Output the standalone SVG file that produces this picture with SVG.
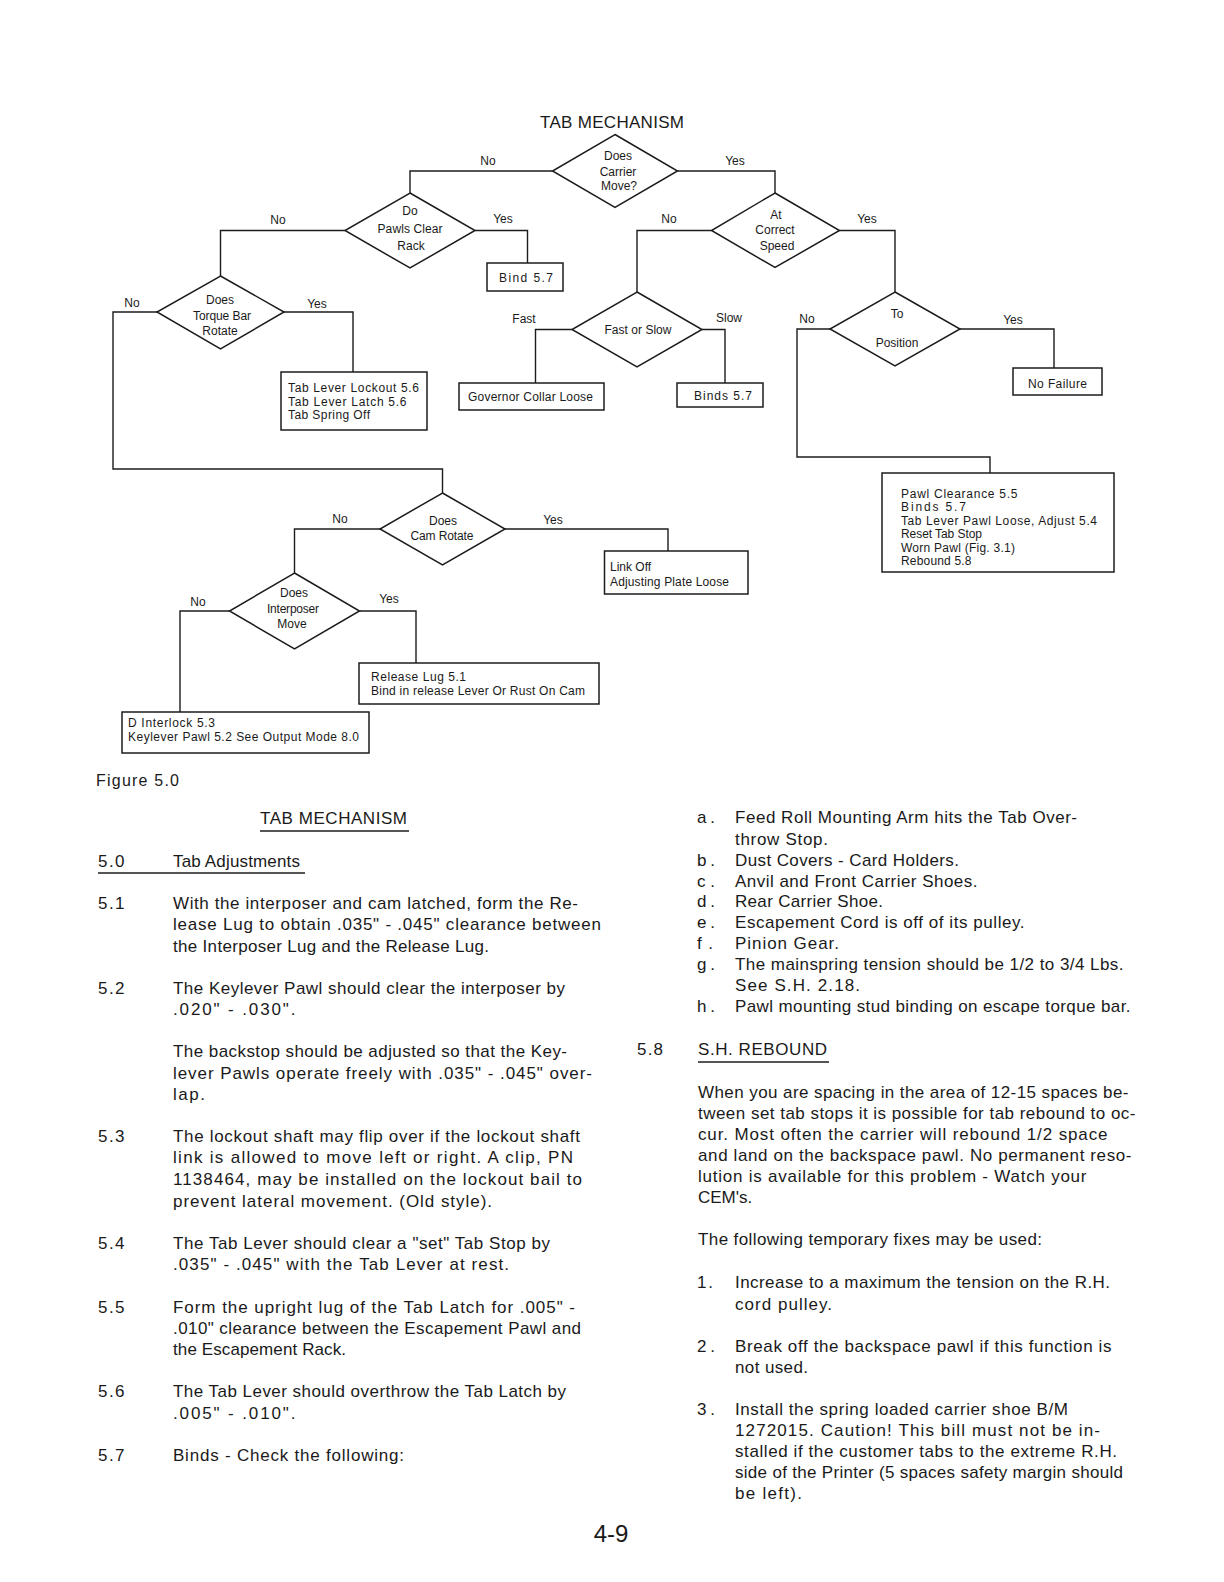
<svg xmlns="http://www.w3.org/2000/svg" width="1224" height="1582" viewBox="0 0 1224 1582">
<style>
.ln{fill:none;stroke:#1c1c1c;stroke-width:1.4}
.nd{fill:#fff;stroke:#1c1c1c;stroke-width:1.5}
text{font-family:"Liberation Sans",Arial,sans-serif;fill:#1a1a1a}
.s{font-size:12px}
.m{text-anchor:middle}
.b{font-size:17px}
.ul{stroke:#1c1c1c;stroke-width:1.5}
</style>
<rect width="1224" height="1582" fill="#fff"/>
<text x="540" y="127.5" class="b" textLength="144" lengthAdjust="spacing">TAB MECHANISM</text>

<g id="connectors">
<polyline class="ln" points="552.5,171 410,171 410,193"/>
<polyline class="ln" points="677.5,171 775,171 775,193"/>
<polyline class="ln" points="345,230.5 220.5,230.5 220.5,276"/>
<polyline class="ln" points="475,230.5 527.5,230.5 527.5,263"/>
<polyline class="ln" points="157,312 113,312 113,469 442.5,469 442.5,493"/>
<polyline class="ln" points="284,312 353,312 353,372"/>
<polyline class="ln" points="711.5,230.5 637,230.5 637,292"/>
<polyline class="ln" points="839.5,230.5 895,230.5 895,292"/>
<polyline class="ln" points="572,329.5 535.5,329.5 535.5,383"/>
<polyline class="ln" points="702,329.5 725,329.5 725,383"/>
<polyline class="ln" points="830,329 797,329 797,457 990,457 990,473"/>
<polyline class="ln" points="960,329 1054,329 1054,368"/>
<polyline class="ln" points="380,529 294.5,529 294.5,573"/>
<polyline class="ln" points="505,529 668,529 668,551"/>
<polyline class="ln" points="229.5,611 180,611 180,712"/>
<polyline class="ln" points="359.5,611 416,611 416,663"/>
<g class="s m">
<text x="488" y="164.5">No</text>
<text x="735" y="164.5">Yes</text>
<text x="278" y="223.5">No</text>
<text x="503" y="222.5">Yes</text>
<text x="669" y="222.5">No</text>
<text x="867" y="222.5">Yes</text>
<text x="132" y="306.5">No</text>
<text x="317" y="307.5">Yes</text>
<text x="524" y="322.5">Fast</text>
<text x="729" y="321.5">Slow</text>
<text x="807" y="322.5">No</text>
<text x="1013" y="323.5">Yes</text>
<text x="340" y="522.5">No</text>
<text x="553" y="523.5">Yes</text>
<text x="198" y="605.5">No</text>
<text x="389" y="602.5">Yes</text>
</g>
</g>

<g id="d-carrier">
<polygon class="nd" points="615,134.5 677.5,171 615,207.5 552.5,171"/>
<text class="s m" x="618" y="159.5">Does</text>
<text class="s m" x="618" y="175.5">Carrier</text>
<text class="s m" x="619" y="190">Move?</text>
</g>
<g id="d-pawls">
<polygon class="nd" points="410,193 475,230.5 410,268 345,230.5"/>
<text class="s m" x="410" y="214.5">Do</text>
<text class="s m" x="410" y="232.5" textLength="65" lengthAdjust="spacing">Pawls Clear</text>
<text class="s m" x="411" y="249.5">Rack</text>
</g>
<g id="d-speed">
<polygon class="nd" points="775,193 839.5,230.5 775,267.5 711.5,230.5"/>
<text class="s m" x="776" y="218.5">At</text>
<text class="s m" x="775" y="233.5">Correct</text>
<text class="s m" x="777" y="249.5">Speed</text>
</g>
<g id="d-torque">
<polygon class="nd" points="220.5,276 284,312 220.5,349 157,312"/>
<text class="s m" x="220" y="303.5">Does</text>
<text class="s m" x="222" y="319.5" textLength="58" lengthAdjust="spacing">Torque Bar</text>
<text class="s m" x="220" y="334.5">Rotate</text>
</g>
<g id="d-fastslow">
<polygon class="nd" points="637,292 702,329.5 637,367 572,329.5"/>
<text class="s m" x="638" y="333.5" textLength="67" lengthAdjust="spacing">Fast or Slow</text>
</g>
<g id="d-position">
<polygon class="nd" points="895,292 960,329 895,366 830,329"/>
<text class="s m" x="897" y="317.5">To</text>
<text class="s m" x="897" y="346.5">Position</text>
</g>
<g id="d-cam">
<polygon class="nd" points="442.5,493 505,529 442.5,565 380,529"/>
<text class="s m" x="443" y="524.5">Does</text>
<text class="s m" x="442" y="539.5" textLength="63" lengthAdjust="spacing">Cam Rotate</text>
</g>
<g id="d-interposer">
<polygon class="nd" points="294.5,573 359.5,611 294.5,649 229.5,611"/>
<text class="s m" x="294" y="596.5">Does</text>
<text class="s m" x="293" y="612.5" textLength="52" lengthAdjust="spacing">Interposer</text>
<text class="s m" x="292" y="627.5">Move</text>
</g>

<g id="b-bind">
<rect class="nd" x="487" y="263" width="76" height="28"/>
<text class="s" x="499" y="282" textLength="54" lengthAdjust="spacing">Bind 5.7</text>
</g>
<g id="b-tablever">
<rect class="nd" x="281" y="372" width="146" height="58"/>
<text class="s" x="288" y="392" textLength="131" lengthAdjust="spacing">Tab Lever Lockout 5.6</text>
<text class="s" x="288" y="405.5" textLength="118.5" lengthAdjust="spacing">Tab Lever Latch 5.6</text>
<text class="s" x="288" y="419" textLength="82" lengthAdjust="spacing">Tab Spring Off</text>
</g>
<g id="b-governor">
<rect class="nd" x="459" y="383" width="145" height="27"/>
<text class="s" x="468" y="401" textLength="125" lengthAdjust="spacing">Governor Collar Loose</text>
</g>
<g id="b-binds">
<rect class="nd" x="677" y="383" width="86" height="24"/>
<text class="s" x="694" y="399.5" textLength="58" lengthAdjust="spacing">Binds 5.7</text>
</g>
<g id="b-nofailure">
<rect class="nd" x="1013" y="368" width="89" height="27"/>
<text class="s" x="1028" y="388" textLength="59" lengthAdjust="spacing">No Failure</text>
</g>
<g id="b-pawl">
<rect class="nd" x="882" y="473" width="232" height="99"/>
<text class="s" x="901" y="497.5" textLength="116.5" lengthAdjust="spacing">Pawl Clearance 5.5</text>
<text class="s" x="901" y="511" textLength="65" lengthAdjust="spacing">Binds 5.7</text>
<text class="s" x="901" y="524.5" textLength="196" lengthAdjust="spacing">Tab Lever Pawl Loose, Adjust 5.4</text>
<text class="s" x="901" y="538" textLength="81" lengthAdjust="spacing">Reset Tab Stop</text>
<text class="s" x="901" y="551.5" textLength="114" lengthAdjust="spacing">Worn Pawl (Fig. 3.1)</text>
<text class="s" x="901" y="565" textLength="70.5" lengthAdjust="spacing">Rebound 5.8</text>
</g>
<g id="b-link">
<rect class="nd" x="604.5" y="551" width="143.5" height="43"/>
<text class="s" x="610" y="571">Link Off</text>
<text class="s" x="610" y="586" textLength="119" lengthAdjust="spacing">Adjusting Plate Loose</text>
</g>
<g id="b-release">
<rect class="nd" x="359" y="663" width="240" height="41"/>
<text class="s" x="371" y="681" textLength="95" lengthAdjust="spacing">Release Lug 5.1</text>
<text class="s" x="371" y="694.5" textLength="214" lengthAdjust="spacing">Bind in release Lever Or Rust On Cam</text>
</g>
<g id="b-interlock">
<rect class="nd" x="122" y="712" width="247" height="41"/>
<text class="s" x="128" y="726.5" textLength="87" lengthAdjust="spacing">D Interlock 5.3</text>
<text class="s" x="128" y="741" textLength="231" lengthAdjust="spacing">Keylever Pawl 5.2 See Output Mode 8.0</text>
</g>

<text x="96" y="786" style="font-size:16px" textLength="83" lengthAdjust="spacing">Figure 5.0</text>

<g id="left-column" class="b">
<text x="260" y="824" textLength="147" lengthAdjust="spacing">TAB MECHANISM</text>
<line class="ul" x1="260" y1="831" x2="409" y2="831"/>
<text x="98" y="867" textLength="26.5" lengthAdjust="spacing">5.0</text>
<text x="173" y="867" textLength="127" lengthAdjust="spacing">Tab Adjustments</text>
<line class="ul" x1="98" y1="873" x2="305" y2="873"/>
<text x="98" y="909" textLength="26.5" lengthAdjust="spacing">5.1</text>
<text x="173" y="909" textLength="405" lengthAdjust="spacing">With the interposer and cam latched, form the Re-</text>
<text x="173" y="930" textLength="428" lengthAdjust="spacing">lease Lug to obtain .035" - .045" clearance between</text>
<text x="173" y="951.5" textLength="316" lengthAdjust="spacing">the Interposer Lug and the Release Lug.</text>
<text x="98" y="994" textLength="26.5" lengthAdjust="spacing">5.2</text>
<text x="173" y="994" textLength="392" lengthAdjust="spacing">The Keylever Pawl should clear the interposer by</text>
<text x="173" y="1015" textLength="122.5" lengthAdjust="spacing">.020" - .030".</text>
<text x="173" y="1057" textLength="394" lengthAdjust="spacing">The backstop should be adjusted so that the Key-</text>
<text x="173" y="1079" textLength="419" lengthAdjust="spacing">lever Pawls operate freely with .035" - .045" over-</text>
<text x="173" y="1100" textLength="32" lengthAdjust="spacing">lap.</text>
<text x="98" y="1142" textLength="26.5" lengthAdjust="spacing">5.3</text>
<text x="173" y="1142" textLength="407" lengthAdjust="spacing">The lockout shaft may flip over if the lockout shaft</text>
<text x="173" y="1163" textLength="400" lengthAdjust="spacing">link is allowed to move left or right.  A clip, PN</text>
<text x="173" y="1185" textLength="409" lengthAdjust="spacing">1138464, may be installed on the lockout bail to</text>
<text x="173" y="1207" textLength="319" lengthAdjust="spacing">prevent lateral movement.  (Old style).</text>
<text x="98" y="1249" textLength="26.5" lengthAdjust="spacing">5.4</text>
<text x="173" y="1249" textLength="377" lengthAdjust="spacing">The Tab Lever should clear a "set" Tab Stop by</text>
<text x="173" y="1270" textLength="336" lengthAdjust="spacing">.035" - .045" with the Tab Lever at rest.</text>
<text x="98" y="1313" textLength="26.5" lengthAdjust="spacing">5.5</text>
<text x="173" y="1313" textLength="402" lengthAdjust="spacing">Form the upright lug of the Tab Latch for .005" -</text>
<text x="173" y="1334" textLength="408" lengthAdjust="spacing">.010" clearance between the Escapement Pawl and</text>
<text x="173" y="1355" textLength="173" lengthAdjust="spacing">the Escapement Rack.</text>
<text x="98" y="1397" textLength="26.5" lengthAdjust="spacing">5.6</text>
<text x="173" y="1397" textLength="393" lengthAdjust="spacing">The Tab Lever should overthrow the Tab Latch by</text>
<text x="173" y="1419" textLength="122.5" lengthAdjust="spacing">.005" - .010".</text>
<text x="98" y="1461" textLength="26.5" lengthAdjust="spacing">5.7</text>
<text x="173" y="1461" textLength="231" lengthAdjust="spacing">Binds - Check the following:</text>
</g>

<g id="right-column" class="b">
<text x="697" y="823" textLength="18" lengthAdjust="spacing">a.</text>
<text x="735" y="823" textLength="342" lengthAdjust="spacing">Feed Roll Mounting Arm hits the Tab Over-</text>
<text x="735" y="844.5" textLength="93" lengthAdjust="spacing">throw Stop.</text>
<text x="697" y="865.5" textLength="18" lengthAdjust="spacing">b.</text>
<text x="735" y="865.5" textLength="224" lengthAdjust="spacing">Dust Covers - Card Holders.</text>
<text x="697" y="886.5" textLength="18" lengthAdjust="spacing">c.</text>
<text x="735" y="886.5" textLength="242.5" lengthAdjust="spacing">Anvil and Front Carrier Shoes.</text>
<text x="697" y="907" textLength="18" lengthAdjust="spacing">d.</text>
<text x="735" y="907" textLength="148" lengthAdjust="spacing">Rear Carrier Shoe.</text>
<text x="697" y="928" textLength="18" lengthAdjust="spacing">e.</text>
<text x="735" y="928" textLength="289.5" lengthAdjust="spacing">Escapement Cord is off of its pulley.</text>
<text x="697" y="949" textLength="16" lengthAdjust="spacing">f.</text>
<text x="735" y="949" textLength="104" lengthAdjust="spacing">Pinion Gear.</text>
<text x="697" y="970" textLength="18" lengthAdjust="spacing">g.</text>
<text x="735" y="970" textLength="388.5" lengthAdjust="spacing">The mainspring tension should be 1/2 to 3/4 Lbs.</text>
<text x="735" y="991" textLength="125" lengthAdjust="spacing">See S.H. 2.18.</text>
<text x="697" y="1012" textLength="18" lengthAdjust="spacing">h.</text>
<text x="735" y="1012" textLength="395.5" lengthAdjust="spacing">Pawl mounting stud binding on escape torque bar.</text>
<text x="637" y="1055" textLength="26" lengthAdjust="spacing">5.8</text>
<text x="698" y="1055" textLength="129" lengthAdjust="spacing">S.H. REBOUND</text>
<line class="ul" x1="698" y1="1062" x2="829" y2="1062"/>
<text x="698" y="1097.5" textLength="430.5" lengthAdjust="spacing">When you are spacing in the area of 12-15 spaces be-</text>
<text x="698" y="1118.5" textLength="437.5" lengthAdjust="spacing">tween set tab stops it is possible for tab rebound to oc-</text>
<text x="698" y="1139.5" textLength="409.5" lengthAdjust="spacing">cur.  Most often the carrier will rebound 1/2 space</text>
<text x="698" y="1160.5" textLength="433.5" lengthAdjust="spacing">and land on the backspace pawl.  No permanent reso-</text>
<text x="698" y="1181.5" textLength="388.5" lengthAdjust="spacing">lution is available for this problem - Watch your</text>
<text x="698" y="1202.5">CEM's.</text>
<text x="698" y="1245" textLength="344" lengthAdjust="spacing">The following temporary fixes may be used:</text>
<text x="697" y="1288" textLength="16" lengthAdjust="spacing">1.</text>
<text x="735" y="1288" textLength="375" lengthAdjust="spacing">Increase to a maximum the tension on the R.H.</text>
<text x="735" y="1309.5" textLength="97" lengthAdjust="spacing">cord pulley.</text>
<text x="697" y="1352" textLength="18" lengthAdjust="spacing">2.</text>
<text x="735" y="1352" textLength="376.5" lengthAdjust="spacing">Break off the backspace pawl if this function is</text>
<text x="735" y="1373" textLength="73" lengthAdjust="spacing">not used.</text>
<text x="697" y="1414.5" textLength="18" lengthAdjust="spacing">3.</text>
<text x="735" y="1414.5" textLength="333" lengthAdjust="spacing">Install the spring loaded carrier shoe B/M</text>
<text x="735" y="1435.5" textLength="365" lengthAdjust="spacing">1272015.  Caution!  This bill must not be in-</text>
<text x="735" y="1457" textLength="382" lengthAdjust="spacing">stalled if the customer tabs to the extreme R.H.</text>
<text x="735" y="1478" textLength="388" lengthAdjust="spacing">side of the Printer (5 spaces safety margin should</text>
<text x="735" y="1499" textLength="67" lengthAdjust="spacing">be left).</text>
</g>

<text x="611" y="1542" class="m" style="font-size:24px">4-9</text>
</svg>
